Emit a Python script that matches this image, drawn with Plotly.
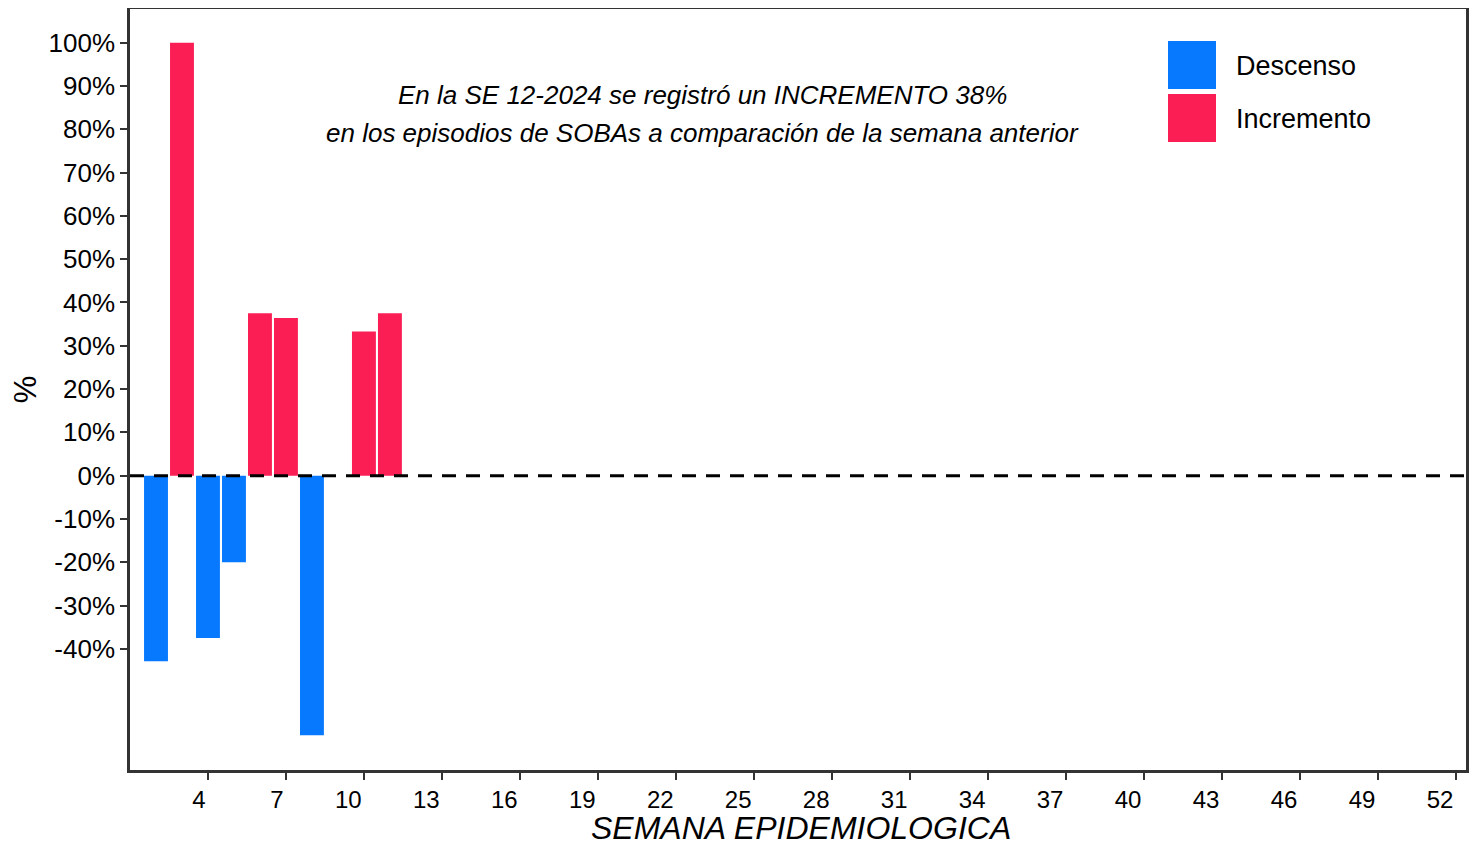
import plotly.graph_objects as go

weeks = [2, 3, 4, 5, 6, 7, 8, 10, 11]
values = [-42.9, 100.0, -37.5, -20.0, 37.5, 36.4, -60.0, 33.3, 37.5]
x_ticks = list(range(4, 53, 3))
y_ticks = list(range(-40, 101, 10))
y_tick_labels = [f"{v}%" for v in y_ticks]
legend_names = ["Descenso", "Incremento"]
legend_colors = ["#0779FF", "#FA1E55"]
note_lines = ["En la SE 12-2024 se registró un INCREMENTO 38%",
              "en los episodios de SOBAs a comparación de la semana anterior"]
x_title = "SEMANA EPIDEMIOLOGICA"

FONT = "Liberation Sans, Arial, sans-serif"

# page body has an 8px default margin; figure placed accordingly
OFF = 8
L, T, R, B = 130, 9, 1466, 770
PW, PH = R - L, B - T

fig = go.Figure()
for name, color, cond in zip(legend_names, legend_colors, [lambda v: v < 0, lambda v: v >= 0]):
    xs = [w for w, v in zip(weeks, values) if cond(v)]
    ys = [v for v in values if cond(v)]
    fig.add_trace(go.Bar(x=xs, y=ys, name=name, marker=dict(color=color, line=dict(width=0)),
                         width=0.92, showlegend=False))

fig.add_shape(type="line", xref="paper", yref="y", x0=0, x1=1, y0=0, y1=0,
              line=dict(color="black", width=3, dash="14px,10px"), layer="above")

def px(x):
    return (x - L) / PW

def py(y):
    return 1 - (y - T) / PH

# manual legend
for i, (name, color) in enumerate(zip(legend_names, legend_colors)):
    y_top = 41 + i * 53
    fig.add_shape(type="rect", xref="paper", yref="paper",
                  x0=px(1168), x1=px(1216), y0=py(y_top + 48), y1=py(y_top),
                  fillcolor=color, line=dict(width=0))
    fig.add_annotation(xref="paper", yref="paper", x=px(1234), y=py(y_top + 25),
                       text=name, showarrow=False, xanchor="left", yanchor="middle",
                       font=dict(family=FONT, size=27, color="black"))

for i, line in enumerate(note_lines):
    fig.add_annotation(xref="paper", yref="paper", x=px(702), y=py(95 + 38 * i),
                       text=line, showarrow=False, xanchor="center", yanchor="middle",
                       font=dict(family=FONT, size=26, color="black", style="italic"))

fig.add_annotation(xref="paper", yref="paper", x=px(801), y=py(847),
                   text=x_title, showarrow=False, xanchor="center", yanchor="bottom",
                   borderpad=0,
                   font=dict(family=FONT, size=32, color="black", style="italic"))

fig.update_layout(
    width=1478 - OFF, height=848 - OFF,
    margin=dict(l=L - OFF, r=1478 - R, t=T - OFF, b=848 - B, autoexpand=False),
    plot_bgcolor="white", paper_bgcolor="white",
    font=dict(family=FONT, color="black"),
    barmode="overlay",
    xaxis=dict(range=[1.0, 52.4], tickmode="array", tickvals=x_ticks,
               ticklabelposition="outside left", ticklabelstandoff=6,
               showgrid=False, zeroline=False, showline=True, mirror=True,
               linecolor="#333333", linewidth=2.5, ticks="outside", ticklen=7,
               tickwidth=2, tickcolor="#333333",
               tickfont=dict(family=FONT, size=24, color="black")),
    yaxis=dict(range=[-68, 107.8], tickmode="array", tickvals=y_ticks, ticktext=y_tick_labels,
               showgrid=False, zeroline=False, showline=True, mirror=True,
               linecolor="#333333", linewidth=2.5, ticks="outside", ticklen=7,
               tickwidth=2, tickcolor="#333333",
               tickfont=dict(family=FONT, size=26, color="black"),
               title=dict(text="%", standoff=17,
                          font=dict(family=FONT, size=31, color="black"))),
)

fig.write_html("out.html")
